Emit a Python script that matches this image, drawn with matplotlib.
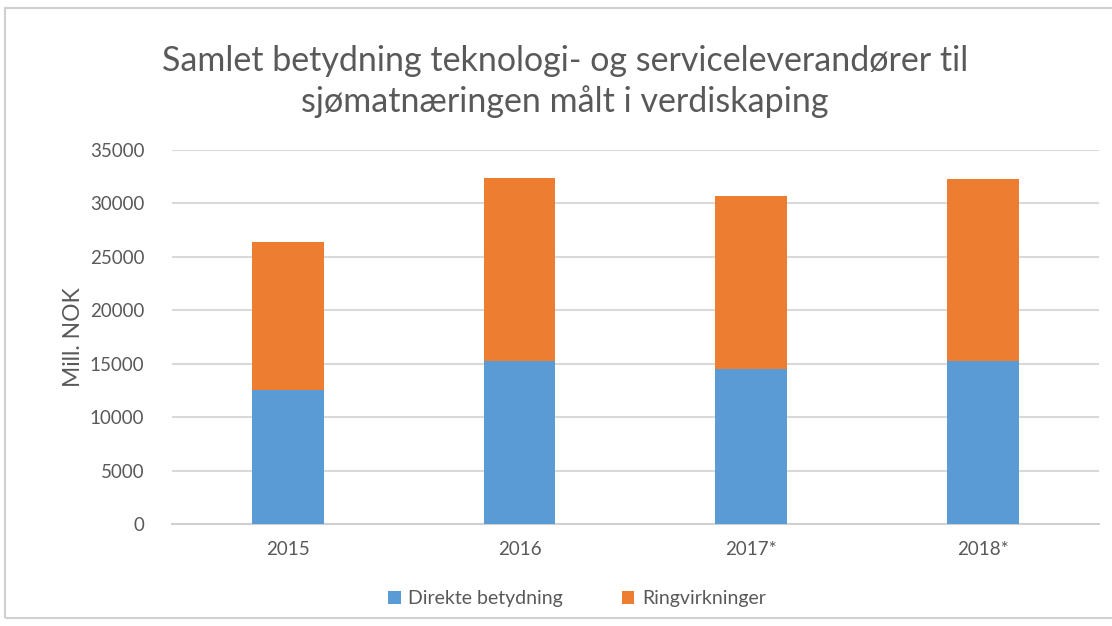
import matplotlib.pyplot as plt
from matplotlib.patches import Rectangle

years = ['2015', '2016', '2017*', '2018*']
direkte = [12500, 15300, 14500, 15300]
ring = [13900, 17100, 16200, 17000]

blue = '#5b9bd5'
orange = '#ed7d31'
grey = '#595959'

plt.rcParams['font.family'] = ['Lato', 'DejaVu Sans']

fig = plt.figure(figsize=(11.12, 6.26), dpi=100)
ax = fig.add_axes([0.1547, 0.1629, 0.8333, 0.5975])

x = range(len(years))
ax.bar(x, direkte, width=0.31, color=blue, label='Direkte betydning', zorder=3)
ax.bar(x, ring, width=0.31, bottom=direkte, color=orange, label='Ringvirkninger', zorder=3)

ax.set_xlim(-0.5, 3.5)
ax.set_ylim(0, 35000)
ax.set_yticks(range(0, 35001, 5000))
ax.set_xticks(list(x))
ax.set_xticklabels(years)
ax.yaxis.grid(True, color='#d9d9d9', linewidth=1.5, zorder=0)
for s in ['top', 'right', 'left']:
    ax.spines[s].set_visible(False)
ax.spines['bottom'].set_color('#d0d0d0')
ax.spines['bottom'].set_linewidth(1.5)
ax.tick_params(length=0, labelsize=13.5, colors=grey, pad=12)
ax.tick_params(axis='y', pad=20)
ax.set_ylabel('Mill. NOK', fontsize=16.5, color=grey, labelpad=4)

fig.text(0.508, 0.87, 'Samlet betydning teknologi- og serviceleverandører til\nsjømatnæringen målt i verdiskaping',
         ha='center', va='center', fontsize=24.5, color=grey, linespacing=1.3)

ax.legend(loc='center', bbox_to_anchor=(0.437, -0.20), ncol=2, frameon=False,
          fontsize=14, labelcolor=grey, handlelength=0.65, handleheight=0.65,
          columnspacing=3.0, handletextpad=0.4)

fig.patches.append(Rectangle((5 / 1112, 1 - 618 / 626), 1.1, (618 - 8) / 626,
                             transform=fig.transFigure, fill=False,
                             edgecolor='#d0d0d0', linewidth=1.5))

fig.savefig('out.png', dpi=100)
